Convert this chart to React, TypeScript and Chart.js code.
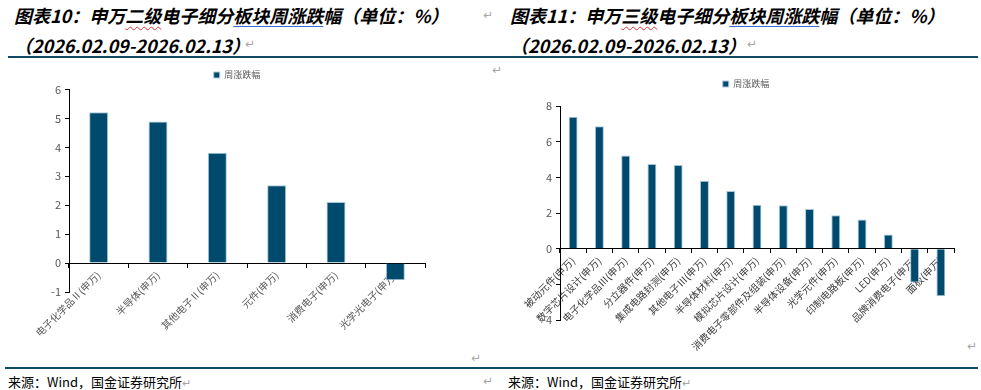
import React, { useEffect, useRef } from 'react';
import { Chart, registerables } from 'chart.js';

Chart.register(...registerables);

const seriesLabel = '周涨跌幅';

const leftCategories = [
  '电子化学品Ⅱ(申万)',
  '半导体(申万)',
  '其他电子Ⅱ(申万)',
  '元件(申万)',
  '消费电子(申万)',
  '光学光电子(申万)',
];
const leftValues = [5.21, 4.89, 3.81, 2.69, 2.11, -0.59];
const leftYRange = [-1, 6];
const leftYStep = 1;

const rightCategories = [
  '被动元件(申万)',
  '数字芯片设计(申万)',
  '电子化学品Ⅲ(申万)',
  '分立器件(申万)',
  '集成电路封测(申万)',
  '其他电子Ⅲ(申万)',
  '半导体材料(申万)',
  '模拟芯片设计(申万)',
  '消费电子零部件及组装(申万)',
  '半导体设备(申万)',
  '光学元件(申万)',
  '印制电路板(申万)',
  'LED(申万)',
  '品牌消费电子(申万)',
  '面板(申万)',
];
const rightValues = [7.4, 6.87, 5.22, 4.75, 4.69, 3.81, 3.23, 2.46, 2.44, 2.22, 1.88, 1.63, 0.79, -1.9, -2.67];
const rightYRange = [-4, 8];
const rightYStep = 2;
const rightHiddenTicks = [-2];

const FONT = "'Noto Sans CJK SC', 'Noto Sans', sans-serif";
const BAR = '#004a6e';
const BAR_EDGE = '#a8c6d8';
const AXIS = '#000000';
const RULE = '#0f4a68';
const MARK = '#a6a6a6';

type ChartProps = {
  width: number;
  height: number;
  categories: string[];
  values: number[];
  yRange: number[];
  yStep: number;
  hidden?: number[];
  barPct: number;
  pad: { left: number; right: number; top: number; bottom: number };
  yWidth: number;
  spacer: number;
  labelColor: string;
};

function BarChart(p: ChartProps) {
  const ref = useRef<HTMLCanvasElement | null>(null);
  useEffect(() => {
    if (!ref.current) return;
    const hidden = p.hidden || [];
    const chart = new Chart(ref.current, {
      type: 'bar',
      data: {
        labels: p.categories,
        datasets: [
          {
            label: seriesLabel,
            data: p.values,
            backgroundColor: BAR,
            borderColor: BAR_EDGE,
            borderWidth: 1,
            barPercentage: p.barPct,
            categoryPercentage: 1,
          },
        ],
      },
      options: {
        responsive: false,
        animation: false,
        layout: { padding: p.pad },
        plugins: {
          legend: {
            display: true,
            position: 'top',
            labels: {
              boxWidth: 6,
              boxHeight: 6,
              padding: 4,
              color: '#595959',
              font: { size: 9, family: FONT },
            },
          },
          title: p.spacer > 0
            ? {
                display: true,
                text: '',
                weight: 500,
                padding: { top: 0, bottom: p.spacer - 6 },
                font: { size: 5, family: FONT },
              }
            : { display: false },
          tooltip: { enabled: false },
        },
        scales: {
          x: {
            position: { y: 0 },
            z: 1,
            grid: {
              display: true,
              drawOnChartArea: false,
              drawTicks: true,
              tickLength: 4,
              color: AXIS,
              offset: true,
            },
            border: { display: true, color: AXIS, width: 1 },
            ticks: {
              autoSkip: false,
              minRotation: 45,
              maxRotation: 45,
              padding: 2,
              color: p.labelColor,
              font: { size: 10, family: FONT },
            },
          },
          y: {
            min: p.yRange[0],
            max: p.yRange[1],
            afterFit: (s: any) => {
              s.width = p.yWidth;
            },
            grid: {
              display: true,
              drawOnChartArea: false,
              drawTicks: true,
              tickLength: 4,
              color: AXIS,
            },
            border: { display: true, color: AXIS, width: 1 },
            ticks: {
              stepSize: p.yStep,
              padding: 4,
              color: '#595959',
              font: { size: 11, family: FONT },
              callback: (v: any) => (hidden.indexOf(Number(v)) >= 0 ? '' : String(v)),
            },
          },
        },
      },
    } as any);
    return () => chart.destroy();
  }, []);
  return <canvas ref={ref} width={p.width} height={p.height} style={{ display: 'block', width: p.width, height: p.height }} />;
}

const abs = (left: number, top: number, extra: React.CSSProperties = {}): React.CSSProperties => ({
  position: 'absolute',
  left,
  top,
  whiteSpace: 'nowrap',
  ...extra,
});

const titleStyle: React.CSSProperties = {
  fontFamily: FONT,
  fontSize: 18,
  fontWeight: 700,
  fontStyle: 'italic',
  lineHeight: '18px',
  color: '#000',
};
const wavy: React.CSSProperties = {
  textDecoration: 'underline wavy #e03030',
  textDecorationThickness: 1,
  textUnderlineOffset: 3,
};
const blueLine: React.CSSProperties = {
  textDecoration: 'underline solid #3a6fd0',
  textDecorationThickness: 1,
  textUnderlineOffset: 3,
};
const markStyle: React.CSSProperties = {
  fontFamily: "'DejaVu Sans', sans-serif",
  fontSize: 12,
  lineHeight: '12px',
  color: MARK,
};
const sourceStyle: React.CSSProperties = {
  fontFamily: FONT,
  fontSize: 13,
  lineHeight: '13px',
  color: '#000',
};

export default function App() {
  return (
    <div style={{ position: 'absolute', left: 0, top: 0, width: 981, height: 390, background: '#fff', overflow: 'hidden' }}>
      <div style={abs(14, 6, titleStyle)}>
        图表10：申万<span style={wavy}>二级</span>电子细分<span style={blueLine}>板块周涨跌</span>幅（单位：%）
      </div>
      <div style={abs(14, 36, titleStyle)}>（2026.02.09-2026.02.13）</div>
      <div style={abs(510, 6, titleStyle)}>
        图表11：申万<span style={wavy}>三级</span>电子细分<span style={blueLine}>板块周涨跌</span>幅（单位：%）
      </div>
      <div style={abs(510, 36, titleStyle)}>（2026.02.09-2026.02.13）</div>

      <div style={abs(483, 9, markStyle)}>↵</div>
      <div style={abs(245, 38, markStyle)}>↵</div>
      <div style={abs(747, 38, markStyle)}>↵</div>
      <div style={abs(492, 64, markStyle)}>↵</div>
      <div style={abs(967, 340, markStyle)}>↵</div>
      <div style={abs(471, 352, markStyle)}>↵</div>
      <div style={abs(483, 375, markStyle)}>↵</div>

      <div style={{ position: 'absolute', left: 8, top: 56, width: 970, height: 2, background: RULE }} />
      <div style={{ position: 'absolute', left: 5, top: 367, width: 973, height: 2, background: RULE }} />

      <div style={abs(0, 60)}>
        <BarChart
          width={490}
          height={300}
          categories={leftCategories}
          values={leftValues}
          yRange={leftYRange}
          yStep={leftYStep}
          barPct={0.32}
          pad={{ left: 49, right: 65, top: 6.5, bottom: 68 }}
          yWidth={20}
          spacer={0}
          labelColor="#595959"
        />
      </div>
      <div style={abs(490, 60)}>
        <BarChart
          width={491}
          height={300}
          categories={rightCategories}
          values={rightValues}
          yRange={rightYRange}
          yStep={rightYStep}
          hidden={rightHiddenTicks}
          barPct={0.34}
          pad={{ left: 48, right: 27, top: 15.5, bottom: 40 }}
          yWidth={22}
          spacer={7.5}
          labelColor="#404040"
        />
      </div>

      <div style={abs(8, 375, sourceStyle)}>来源：Wind，国金证券研究所<span style={{ color: MARK, fontSize: 11 }}>↵</span></div>
      <div style={abs(508, 375, sourceStyle)}>来源：Wind，国金证券研究所<span style={{ color: MARK, fontSize: 11 }}>↵</span></div>
    </div>
  );
}
